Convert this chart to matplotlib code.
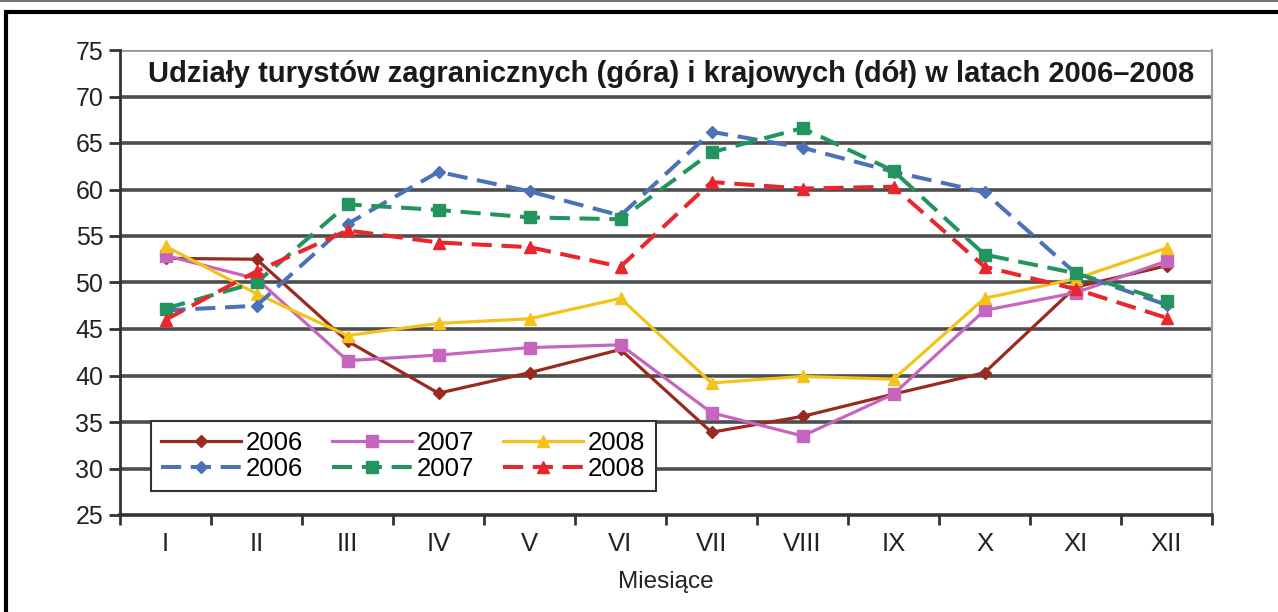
import matplotlib.pyplot as plt
from matplotlib.patches import Rectangle
from matplotlib.lines import Line2D

plt.rcParams['font.family'] = ['Liberation Sans', 'DejaVu Sans']

# Months
months = ["I", "II", "III", "IV", "V", "VI", "VII", "VIII", "IX", "X", "XI", "XII"]

# Domestic tourists (solid lines, bottom)
dom_2006 = [52.6, 52.5, 43.7, 38.1, 40.3, 42.8, 33.9, 35.6, 38.0, 40.3, 49.5, 51.8]
dom_2007 = [52.9, 50.4, 41.6, 42.2, 43.0, 43.3, 36.0, 33.5, 38.0, 47.0, 48.9, 52.3]
dom_2008 = [53.9, 48.8, 44.3, 45.6, 46.1, 48.3, 39.2, 39.9, 39.6, 48.3, 50.4, 53.7]

# Foreign tourists (dashed lines, top)
for_2006 = [47.0, 47.5, 56.3, 61.9, 59.8, 57.2, 66.2, 64.5, 61.9, 59.7, 51.0, 47.6]
for_2007 = [47.2, 50.0, 58.4, 57.8, 57.0, 56.8, 64.0, 66.6, 62.0, 53.0, 51.0, 48.0]
for_2008 = [46.0, 51.2, 55.6, 54.3, 53.8, 51.7, 60.8, 60.1, 60.3, 51.7, 49.3, 46.2]

years = ["2006", "2007", "2008"]

fig = plt.figure(figsize=(12.78, 6.12), dpi=100)

# outer frame of the page
fig.add_artist(Line2D([0, 1], [0.999, 0.999], color="#777777", lw=1.5,
                      transform=fig.transFigure))
fig.add_artist(Rectangle((6 / 1278, -0.05), 1.1, 1 - 12 / 612 + 0.05,
                         transform=fig.transFigure, fill=False,
                         edgecolor="black", lw=3))

ax = fig.add_axes([120 / 1278, 1 - 515 / 612, (1212 - 120) / 1278, (515 - 50) / 612])

x = list(range(1, 13))
dash = (5, 2.4)

s06, = ax.plot(x, dom_2006, color="#9B2A1E", lw=2.3, marker="D", ms=6.5, label=years[0])
s07, = ax.plot(x, dom_2007, color="#C665BE", lw=2.3, marker="s", ms=8, label=years[1])
s08, = ax.plot(x, dom_2008, color="#F2C31B", lw=2.3, marker="^", ms=9, label=years[2])
d06, = ax.plot(x, for_2006, color="#4B72B9", lw=2.9, ls=(0, dash), marker="D", ms=6.5, label=years[0])
d07, = ax.plot(x, for_2007, color="#23945E", lw=2.9, ls=(0, dash), marker="s", ms=8, label=years[1])
d08, = ax.plot(x, for_2008, color="#E8262B", lw=2.9, ls=(0, dash), marker="^", ms=9, label=years[2])

ax.set_xlim(0.5, 12.5)
ax.set_ylim(25, 75)
ax.set_yticks(range(25, 80, 5))
ax.set_xticks(x)
ax.set_xticklabels(months, fontsize=18.5)
ax.set_xticks([i + 0.5 for i in range(0, 13)], minor=True)
ax.tick_params(axis="x", which="major", length=0, pad=12, colors="#222222")
ax.tick_params(axis="x", which="minor", length=7, width=2, color="#333333")
ax.tick_params(axis="y", length=8, width=2, labelsize=18, colors="#222222", pad=4)
ax.tick_params(axis="y", color="#333333")

# gridlines
for v in range(30, 75, 5):
    ax.axhline(v, color="#4d4d4d", lw=2.6, zorder=0)
ax.axhline(75, color="#999999", lw=2, zorder=0)

ax.spines["left"].set_linewidth(2)
ax.spines["left"].set_color("#333333")
ax.spines["bottom"].set_linewidth(2.6)
ax.spines["bottom"].set_color("#333333")
ax.spines["top"].set_visible(False)
ax.spines["right"].set_color("#999999")
ax.spines["right"].set_linewidth(1.5)

ax.text(0.026, 72.4, "Udziały turystów zagranicznych (góra) i krajowych (dół) w latach 2006–2008",
        transform=ax.get_yaxis_transform(), fontsize=21, fontweight="bold",
        va="center", ha="left", color="#1a1a1a")

ax.set_xlabel("Miesiące", fontsize=17.5, color="#222222", labelpad=11)

leg = ax.legend([s06, d06, s07, d07, s08, d08], [years[0], years[0], years[1], years[1], years[2], years[2]],
                ncol=3, loc="lower left", bbox_to_anchor=(0.028, 0.052), borderaxespad=0,
                fontsize=18.5, handlelength=3.1, columnspacing=1.13, handletextpad=0.2,
                labelspacing=0.05, borderpad=0.4, fancybox=False, framealpha=1)
leg.get_frame().set_edgecolor("#333333")
leg.get_frame().set_linewidth(1.5)

fig.savefig("out.png", dpi=100)
